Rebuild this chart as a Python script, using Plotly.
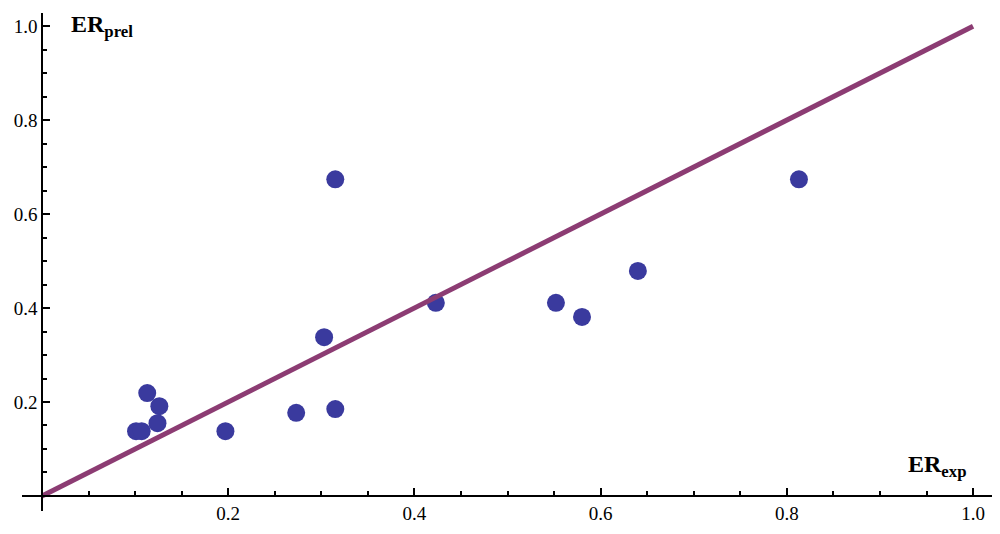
import plotly.graph_objects as go

# Data
er_exp = [0.101, 0.107, 0.113, 0.126, 0.124, 0.197, 0.273, 0.315, 0.303, 0.315,
          0.423, 0.552, 0.580, 0.640, 0.813]
er_pred = [0.138, 0.138, 0.219, 0.191, 0.155, 0.138, 0.177, 0.185, 0.338, 0.674,
           0.411, 0.411, 0.381, 0.479, 0.674]
line_x = [0.0, 1.0]
line_y = [0.0, 1.0]
tick_vals = [0.2, 0.4, 0.6, 0.8, 1.0]
tick_text = ["0.2", "0.4", "0.6", "0.8", "1.0"]

xr = [-0.0215, 1.0225]
yr = [-0.032, 1.028]
xpos = (0 - xr[0]) / (xr[1] - xr[0])
ypos = (0 - yr[0]) / (yr[1] - yr[0])

fig = go.Figure()
fig.add_trace(go.Scatter(x=er_exp, y=er_pred, mode="markers",
                         marker=dict(size=18, color="rgb(58,58,158)", line=dict(width=0)),
                         showlegend=False, hoverinfo="skip"))
fig.add_trace(go.Scatter(x=line_x, y=line_y, mode="lines",
                         line=dict(color="rgb(140,60,115)", width=5),
                         showlegend=False, hoverinfo="skip"))

axfont = dict(family="Liberation Serif", size=19, color="black")
fig.update_layout(
    width=1000, height=534,
    margin=dict(l=14, r=14, t=5, b=31, autoexpand=False),
    paper_bgcolor="white", plot_bgcolor="white",
    xaxis=dict(range=xr, showgrid=False, zeroline=False, showline=True,
               linecolor="black", linewidth=1.5, anchor="free", position=ypos,
               tickvals=tick_vals, ticktext=tick_text, ticks="inside", ticklen=7,
               tickwidth=1.5, tickcolor="black", tickfont=axfont, automargin=False,
               minor=dict(ticks="inside", dtick=0.05, tick0=0, ticklen=4,
                          tickwidth=1.5, tickcolor="black", showgrid=False)),
    yaxis=dict(range=yr, showgrid=False, zeroline=False, showline=True,
               linecolor="black", linewidth=1.5, anchor="free", position=xpos,
               tickvals=tick_vals, ticktext=tick_text, ticks="inside", ticklen=7,
               tickwidth=1.5, tickcolor="black", tickfont=axfont, automargin=False,
               minor=dict(ticks="inside", dtick=0.05, tick0=0, ticklen=4,
                          tickwidth=1.5, tickcolor="black", showgrid=False)),
    annotations=[
        dict(x=0.029, y=1.0, xref="x", yref="y", xanchor="left", yanchor="middle",
             text="<b>ER<sub>prel</sub></b>", showarrow=False,
             font=dict(family="Liberation Serif", size=24, color="black")),
        dict(x=0.928, y=0.064, xref="x", yref="y", xanchor="left", yanchor="middle",
             text="<b>ER<sub>exp</sub></b>", showarrow=False,
             font=dict(family="Liberation Serif", size=24, color="black")),
    ],
)

fig.write_html("out.html")
